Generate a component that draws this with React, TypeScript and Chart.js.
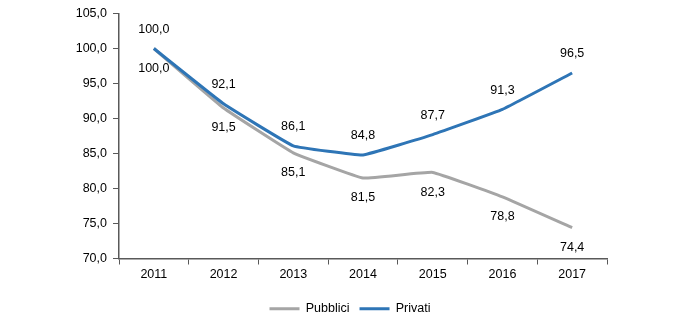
import React, { useEffect, useRef } from "react";
import { Chart, registerables } from "chart.js";

Chart.register(...registerables);

const years = ["2011", "2012", "2013", "2014", "2015", "2016", "2017"];
const pubblici = [100.0, 91.5, 85.1, 81.5, 82.3, 78.8, 74.4];
const privati = [100.0, 92.1, 86.1, 84.8, 87.7, 91.3, 96.5];
const yMin = 70;
const yMax = 105;
const yStep = 5;

const FONT = "'Liberation Sans', Arial, sans-serif";
const FS = 12.5;
const fmt = (v: number) => v.toFixed(1).replace(".", ",");

const labelPlugin = {
  id: "valueLabels",
  afterDatasetsDraw(chart: any) {
    const ctx = chart.ctx;
    ctx.save();
    ctx.font = `${FS}px ${FONT}`;
    ctx.fillStyle = "#000";
    ctx.textAlign = "center";
    ctx.textBaseline = "middle";
    chart.data.datasets.forEach((ds: any, i: number) => {
      const meta = chart.getDatasetMeta(i);
      const above = ds.label === "Privati";
      meta.data.forEach((pt: any, j: number) => {
        const dy = above ? -19 : 20;
        ctx.fillText(fmt(ds.data[j]), pt.x, pt.y + dy);
      });
    });
    ctx.restore();
  },
};

export default function App() {
  const ref = useRef<HTMLCanvasElement>(null);
  useEffect(() => {
    document.body.style.margin = "0";
    const chart = new Chart(ref.current!, {
      type: "line",
      data: {
        labels: years,
        datasets: [
          {
            label: "Pubblici",
            data: pubblici,
            borderColor: "#A5A5A5",
            backgroundColor: "#A5A5A5",
            borderWidth: 3,
            pointRadius: 0,
            tension: 0.08,
            order: 1,
          },
          {
            label: "Privati",
            data: privati,
            borderColor: "#2E75B6",
            backgroundColor: "#2E75B6",
            borderWidth: 3,
            pointRadius: 0,
            tension: 0.08,
            order: 0,
          },
        ],
      },
      options: {
        animation: false,
        responsive: false,
        layout: { padding: { left: 0, right: 0, top: 13, bottom: 0 } },
        plugins: {
          tooltip: { enabled: false },
          legend: {
            position: "bottom",
            labels: {
              boxWidth: 30,
              boxHeight: 3,
              padding: 10,
              color: "#000",
              font: { family: FONT, size: FS },
              sort: (a: any, b: any) => a.datasetIndex - b.datasetIndex,
              generateLabels: (c: any) =>
                Chart.defaults.plugins.legend.labels
                  .generateLabels(c)
                  .map((l: any) => ({ ...l, lineWidth: 0 })),
            },
          },
        },
        scales: {
          x: {
            offset: true,
            grid: {
              offset: true,
              drawOnChartArea: false,
              tickLength: 6,
              color: "#595959",
            },
            border: { color: "#595959", width: 1.5 },
            ticks: {
              color: "#000",
              font: { family: FONT, size: FS },
              padding: 3,
            },
            afterFit: (s: any) => {
              s.height = 34;
            },
          },
          y: {
            min: yMin,
            max: yMax,
            grid: {
              drawOnChartArea: false,
              tickLength: 6,
              color: "#595959",
            },
            border: { color: "#595959", width: 1.5 },
            ticks: {
              stepSize: yStep,
              color: "#000",
              font: { family: FONT, size: FS },
              padding: 6,
              callback: (v: any) => fmt(Number(v)),
            },
            afterFit: (s: any) => {
              s.width = 119;
            },
          },
          yPad: {
            type: "linear",
            position: "right",
            min: yMin,
            max: yMax,
            grid: { display: false, drawTicks: false },
            border: { display: false },
            ticks: { display: false },
            afterFit: (s: any) => {
              s.width = 93;
            },
          },
        },
      },
      plugins: [labelPlugin],
    });
    return () => chart.destroy();
  }, []);
  return <canvas ref={ref} width={700} height={325} style={{ display: "block" }} />;
}
